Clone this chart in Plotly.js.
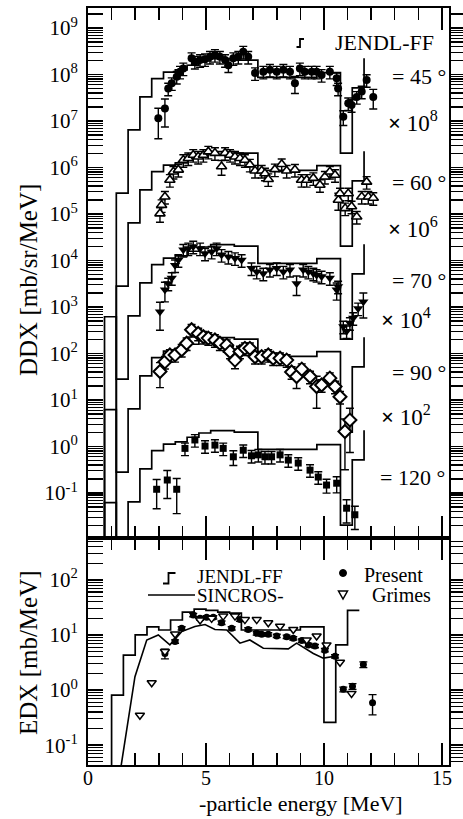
<!DOCTYPE html>
<html><head><meta charset="utf-8">
<script src="https://cdn.plot.ly/plotly-3.0.1.min.js"></script>
<style>html,body{margin:0;padding:0;background:#fff}#chart{width:463px;height:819px}</style>
</head><body><div id="chart"></div>
<script>
// ================= DATA =================
// JENDL-FF DDX (isotropic shape, unscaled, mb/sr/MeV); bins start at edges[i]; last value = final step height
const ddxEdges = [0.7,1.2,1.7,2.2,2.7,3.2,3.7,4.2,4.7,5.2,5.7,6.2,6.7,7.2,7.7,8.2,8.7,9.2,9.7,10.2,10.7,11.2,11.7];
const ddxJendl = [0.0617,0.00282,0.0646,0.331,0.813,1.12,1.26,1.58,1.95,2.19,2.19,2.04,2.04,0.87,0.87,0.87,0.87,0.87,1.10,1.10,0.0204,0.513,2.24];
const ddxAngleLabels = ['= 45 °','= 60 °','= 70 °','= 90 °','= 120 °'];
const ddxScaleLabels = ['10<sup>8</sup>','10<sup>6</sup>','10<sup>4</sup>','10<sup>2</sup>',''];
const ddxScale = [1e8,1e6,1e4,1e2,1];
const ddxFirstBin = [1,1,0,0,0];

// measured DDX (unscaled)
const e45 = [2.98,3.26,3.40,3.55,3.76,3.90,4.04,4.39,4.53,4.75,4.96,5.17,5.38,5.59,5.81,5.95,6.16,6.37,6.58,6.79,7.08,7.43,7.71,8.0,8.28,8.56,8.77,8.98,9.19,9.48,9.69,9.9,10.25,10.54,10.6,10.82,11.03,11.17,11.39,11.6,11.81,12.09];
const v45 = [0.115,0.186,0.50,0.65,0.89,1.15,1.35,2.24,1.88,2.04,2.14,2.40,2.63,2.40,2.04,1.58,2.24,2.40,3.09,2.40,1.07,1.15,1.26,1.15,1.26,1.15,0.65,1.35,1.15,1.15,1.15,0.98,1.15,0.83,0.50,0.123,0.24,0.22,0.33,0.43,0.76,0.33];
const f45 = [0.64,0.6,0.3,0.3,0.3,0.3,0.3,0.3,0.3,0.3, 0.3,0.3,0.3,0.3,0.3,0.3,0.3,0.3,0.3,0.3, 0.3,0.3,0.3,0.3,0.3,0.3,0.4,0.3,0.3,0.3, 0.3,0.3,0.3,0.3,0.3,0.35,0.3,0.3,0.3,0.3, 0.3,0.45];

const e60 = [3.05,3.12,3.26,3.47,3.62,3.83,4.04,4.25,4.46,4.67,4.89,5.10,5.38,5.66,5.81,6.02,6.23,6.44,6.65,6.86,7.08,7.36,7.50,7.64,7.92,8.21,8.42,8.77,9.05,9.27,9.55,9.83,10.04,10.25,10.47,10.61,10.68,10.9,11.03,11.17,11.39,11.6,11.81,11.88,12.09];
const v60 = [0.102,0.155,0.234,0.54,0.81,0.89,1.45,1.58,1.86,1.70,1.86,2.19,2.04,1.05,2.04,1.86,1.70,1.58,1.45,1.15,0.85,0.85,0.74,0.56,0.91,1.17,0.85,0.89,0.54,0.54,0.59,0.42,0.63,0.81,0.69,0.20,0.275,0.132,0.275,0.145,0.087,0.234,0.49,0.234,0.22];
const f60 = [0.35,0.3,0.3,0.3,0.3,0.3,0.3,0.3,0.3,0.3, 0.3,0.3,0.3,0.35,0.3,0.3,0.3,0.3,0.3,0.3, 0.3,0.3,0.3,0.3,0.3,0.3,0.3,0.3,0.3,0.3, 0.3,0.3,0.3,0.3,0.3,0.4,0.3,0.3,0.3,0.3, 0.3,0.3,0.3,0.3,0.3];

const e70 = [3.05,3.26,3.40,3.55,3.69,3.83,4.04,4.25,4.46,4.75,4.96,5.24,5.45,5.66,5.95,6.23,6.51,6.93,7.15,7.43,7.71,8.0,8.28,8.56,8.84,9.12,9.34,9.55,9.69,9.9,10.25,10.54,10.6,10.82,10.96,11.1,11.24,11.45,11.67];
const v70 = [0.079,0.234,0.32,0.42,0.79,1.02,1.70,1.82,2.0,1.82,1.41,1.55,1.82,1.32,1.20,1.12,1.02,0.68,0.575,0.525,0.63,0.68,0.575,0.63,0.32,0.63,0.575,0.525,0.49,0.45,0.42,0.234,0.275,0.038,0.030,0.045,0.058,0.093,0.129];
const f70 = [0.6,0.45,0.3,0.3,0.3,0.3,0.3,0.3,0.3,0.3, 0.3,0.3,0.3,0.3,0.3,0.3,0.3,0.3,0.3,0.3, 0.3,0.3,0.3,0.3,0.45,0.3,0.3,0.3,0.3,0.3, 0.3,0.4,0.3,0.3,0.3,0.3,0.3,0.3,0.55];

const e90 = [3.05,3.26,3.47,3.69,3.97,4.18,4.39,4.67,4.89,5.10,5.38,5.59,5.88,6.02,6.23,6.44,6.65,6.86,7.08,7.36,7.64,7.85,8.14,8.42,8.63,8.84,9.06,9.41,9.69,9.9,10.25,10.47,10.68,10.89,11.1];
const v90 = [0.41,0.66,0.93,0.93,1.20,1.66,3.24,2.69,2.29,2.14,1.95,1.66,1.51,1.10,0.72,1.10,1.29,1.29,0.85,0.85,0.93,0.79,0.79,0.72,0.40,0.32,0.46,0.32,0.195,0.21,0.295,0.195,0.117,0.021,0.037];
const f90 = [0.55,0.3,0.3,0.3,0.3,0.3,0.3,0.3,0.3,0.3, 0.3,0.3,0.3,0.3,0.35,0.3,0.3,0.3,0.3,0.3, 0.3,0.3,0.3,0.3,0.3,0.45,0.3,0.3,0.66,0.3, 0.3,0.3,0.3,0.85,0.8];

const e120 = [2.91,3.36,3.76,4.11,4.53,4.96,5.38,5.73,6.16,6.58,6.93,7.22,7.5,7.78,8.14,8.49,8.91,9.41,9.76,10.11,10.54,10.96,11.31];
const v120 = [0.12,0.19,0.12,0.91,1.38,1.02,1.07,0.91,0.60,0.83,0.63,0.66,0.60,0.60,0.66,0.51,0.44,0.31,0.22,0.148,0.162,0.047,0.034];
const f120 = [0.62,0.6,0.7,0.3,0.3,0.3,0.3,0.3,0.35,0.3, 0.3,0.3,0.3,0.3,0.3,0.3,0.3,0.3,0.3,0.33, 0.38,0.52,0.52];

// EDX (mb/MeV)
const edxEdges = [1.0,1.5,2.0,2.5,3.0,3.5,4.0,4.5,5.0,5.5,6.0,6.5,7.0,7.5,8.0,8.5,9.0,9.5,10.0,10.5,11.0,11.5];
const edxJendl = [0.81,4.3,10,14,12.3,18.7,26,29.5,28,26,25,12.3,12.3,12.3,12.3,12.3,14,14,0.26,6.6,28];
const eSincros = [1.35,1.99,2.49,2.98,3.47,3.97,4.53,4.96,5.38,5.88,6.44,6.86,7.43,8.49,8.84,9.55,9.97,10.47];
const vSincros = [0.03,1.75,8.1,10,6.6,11.5,14.2,15.5,12.6,12.3,7.1,8.1,5.75,5.6,7.1,4.6,3.8,4.1];
const ePresent = [3.26,3.69,3.97,4.46,4.75,5.03,5.31,5.66,6.09,6.44,6.79,7.15,7.36,7.64,8.0,8.42,8.7,9.06,9.34,9.62,10.04,10.47,10.82,11.21,11.67,12.06];
const vPresent = [4.6,7.6,13.2,23,20,21,21,16.7,13.2,19,12.6,10.7,10.3,10.3,9.6,9.3,8.7,7.9,6.6,6.3,5.3,4.1,1.03,1.17,2.9,0.59];
const fPresent = [0.2,0.07,0.07,0.07,0.07,0.07,0.07,0.07,0.07,0.07, 0.07,0.07,0.07,0.07,0.07,0.07,0.07,0.07,0.07,0.07, 0.07,0.07,0.1,0.12,0.12,0.4];
const eGrimes = [2.2,2.7,3.26,3.69,4.75,5.24,5.73,6.23,6.65,7.15,7.64,8.14,8.7,9.27,9.69,10.11,10.68,11.17];
const vGrimes = [0.35,1.36,5.0,10.4,18.7,20,22,22,19,19,16.7,14.4,12.6,8.1,9.6,6.6,3.2,0.87];

const topTickVals = [1e-1,1,1e1,1e2,1e3,1e4,1e5,1e6,1e7,1e8,1e9];
const topTickText = ['10<sup>-1</sup>','10<sup>0</sup>','10<sup>1</sup>','10<sup>2</sup>','10<sup>3</sup>','10<sup>4</sup>','10<sup>5</sup>','10<sup>6</sup>','10<sup>7</sup>','10<sup>8</sup>','10<sup>9</sup>'];
const botTickVals = [1e-1,1,1e1,1e2];
const botTickText = ['10<sup>-1</sup>','10<sup>0</sup>','10<sup>1</sup>','10<sup>2</sup>'];

// ================= BUILD =================
const FONT = 'Liberation Serif, Times New Roman, serif';
const BLACK = '#000';
const FLOOR = 1e-12;
const X = px => (px - 88) / 361;
const Y = py => (765 - py) / 757;

function stepTrace(edges, vals, scale, startIdx, closeLast, xa, ya) {
  const xs = [edges[startIdx]], ys = [FLOOR];
  for (let i = startIdx; i < vals.length; i++) { xs.push(edges[i]); ys.push(vals[i] * scale); }
  if (closeLast) { xs.push(edges[vals.length]); ys.push(vals[vals.length - 1] * scale); }
  return {x: xs, y: ys, xaxis: xa, yaxis: ya, mode: 'lines', type: 'scatter',
          line: {shape: 'hv', color: BLACK, width: 1.7}, hoverinfo: 'skip', showlegend: false};
}
function pointTrace(e, v, f, scale, marker, xa, ya) {
  return {x: e, y: v.map(a => a * scale), xaxis: xa, yaxis: ya, mode: 'markers', type: 'scatter',
          marker: marker, showlegend: false,
          error_y: {type: 'data', symmetric: true, array: v.map((a, i) => a * scale * f[i]),
                    color: BLACK, thickness: 1.4, width: 4}};
}

const markers = [
  {symbol: 'circle', size: 8, color: BLACK},
  {symbol: 'triangle-up', size: 9, color: '#fff', line: {color: BLACK, width: 1.6}},
  {symbol: 'triangle-down', size: 9, color: BLACK},
  {symbol: 'diamond', size: 10, color: '#fff', line: {color: BLACK, width: 2}},
  {symbol: 'square', size: 7, color: BLACK}
];
const meas = [[e45, v45, f45], [e60, v60, f60], [e70, v70, f70], [e90, v90, f90], [e120, v120, f120]];

const traces = [];
for (let k = 0; k < 5; k++) {
  traces.push(stepTrace(ddxEdges, ddxJendl, ddxScale[k], ddxFirstBin[k], false, 'x2', 'y2'));
}
for (let k = 0; k < 5; k++) {
  traces.push(pointTrace(meas[k][0], meas[k][1], meas[k][2], ddxScale[k], markers[k], 'x2', 'y2'));
}
traces.push(stepTrace(edxEdges, edxJendl, 1, 0, true, 'x', 'y'));
traces.push({x: eSincros, y: vSincros, xaxis: 'x', yaxis: 'y', mode: 'lines', type: 'scatter',
             line: {color: BLACK, width: 1.6}, showlegend: false});
traces.push(pointTrace(ePresent, vPresent, fPresent, 1, {symbol: 'circle', size: 7, color: BLACK}, 'x', 'y'));
traces.push({x: eGrimes, y: vGrimes, xaxis: 'x', yaxis: 'y', mode: 'markers', type: 'scatter', showlegend: false,
             marker: {symbol: 'triangle-down', size: 8, color: '#fff', line: {color: BLACK, width: 1.5}}});
// dummy traces to hold the right-side tick axes
traces.push({x: [], y: [], xaxis: 'x', yaxis: 'y3', type: 'scatter', showlegend: false});
traces.push({x: [], y: [], xaxis: 'x2', yaxis: 'y4', type: 'scatter', showlegend: false});

const TOPRANGE = [-1.968, 9.43];
const BOTRANGE = [-1.36, 2.76];
const SPLIT = 0.2999;

const xCommon = {range: [0, 15.3], tickmode: 'linear', tick0: 0, dtick: 5, ticks: 'inside', ticklen: 22,
  tickwidth: 1.5, tickcolor: BLACK, showline: true, linewidth: 2, linecolor: BLACK, mirror: 'ticks',
  showgrid: false, zeroline: false, ticklabelstandoff: -6,
  minor: {tickmode: 'linear', tick0: 0, dtick: 1, ticks: 'inside', ticklen: 12, tickwidth: 1.5, tickcolor: BLACK},
  tickfont: {family: FONT, size: 20, color: BLACK}};
function yLeft(range, tv, tt, domain) {
  return {type: 'log', range: range, domain: domain, tickmode: 'array', tickvals: tv, ticktext: tt,
    ticks: 'inside', ticklen: 15, tickwidth: 1.5, tickcolor: BLACK, showline: true, linewidth: 2,
    linecolor: BLACK, mirror: true, showgrid: false, zeroline: false,
    minor: {tickmode: 'linear', dtick: 'D1', ticks: 'inside', ticklen: 15, tickwidth: 1.2, tickcolor: BLACK},
    tickfont: {family: FONT, size: 21, color: BLACK}, ticklabelstandoff: 4};
}
function yRight(range, tv, over) {
  return {type: 'log', range: range, overlaying: over, side: 'right', tickmode: 'array', tickvals: tv,
    ticks: 'outside', ticklen: 14, tickwidth: 1.5, tickcolor: BLACK, showline: false, showgrid: false,
    zeroline: false, showticklabels: false,
    minor: {tickmode: 'linear', dtick: 'D1', ticks: 'outside', ticklen: 14, tickwidth: 1.2, tickcolor: BLACK}};
}

const ann = [];
function txt(text, px, py, size, extra) {
  ann.push(Object.assign({text: text, x: X(px), y: Y(py), xref: 'paper', yref: 'paper', showarrow: false,
    xanchor: 'center', yanchor: 'middle', font: {family: FONT, size: size, color: BLACK}}, extra || {}));
}
const angPos = [[419, 77], [419, 183], [419, 281], [419, 372], [412, 478]];
const sclPos = [[413, 121], [413, 227], [406, 318], [406, 415]];
for (let k = 0; k < 5; k++) {
  txt(ddxAngleLabels[k], angPos[k][0], angPos[k][1], 22);
  if (ddxScaleLabels[k]) txt('<b>×</b> ' + ddxScaleLabels[k], sclPos[k][0], sclPos[k][1], 23);
}
txt('JENDL-FF', 384, 43, 22);
txt('JENDL-FF', 195, 576, 19, {xanchor: 'left'});
txt('SINCROS-', 195, 595, 19, {xanchor: 'left'});
txt('Present', 362, 575, 20, {xanchor: 'left'});
txt('Grimes', 370, 595, 20, {xanchor: 'left'});
txt('DDX [mb/sr/MeV]', 28, 280, 25, {textangle: -90});
txt('EDX [mb/MeV]', 28, 653, 25, {textangle: -90});
txt('-particle energy [MeV]', 301, 804, 22);

const P = (px, py) => X(px) + ',' + Y(py);
const shapes = [
  {type: 'path', xref: 'paper', yref: 'paper', path: 'M' + P(296.5, 47) + 'L' + P(300, 47) + 'L' + P(300, 39) + 'L' + P(304, 39),
   line: {color: BLACK, width: 1.8}},
  {type: 'path', xref: 'paper', yref: 'paper', path: 'M' + P(163, 583.5) + 'L' + P(168.5, 583.5) + 'L' + P(168.5, 573) + 'L' + P(175.5, 573),
   line: {color: BLACK, width: 1.8}},
  {type: 'line', xref: 'paper', yref: 'paper', x0: X(148), x1: X(195), y0: Y(595), y1: Y(595), line: {color: BLACK, width: 1.6}},
  {type: 'circle', xref: 'paper', yref: 'paper', x0: X(339.5), x1: X(346.5), y0: Y(576.5), y1: Y(569.5),
   fillcolor: BLACK, line: {color: BLACK, width: 1}},
  {type: 'path', xref: 'paper', yref: 'paper', path: 'M' + P(338.5, 591) + 'L' + P(347.5, 591) + 'L' + P(343, 599) + 'Z',
   line: {color: BLACK, width: 1.5}}
];

const layout = {
  width: 463, height: 819, margin: {l: 88, r: 14, t: 8, b: 54},
  paper_bgcolor: '#fff', plot_bgcolor: '#fff', showlegend: false,
  font: {family: FONT, color: BLACK},
  xaxis: Object.assign({}, xCommon, {anchor: 'y', domain: [0, 1]}),
  xaxis2: Object.assign({}, xCommon, {anchor: 'y2', domain: [0, 1], matches: 'x', showticklabels: false}),
  yaxis: Object.assign(yLeft(BOTRANGE, botTickVals, botTickText, [0, SPLIT]), {anchor: 'x'}),
  yaxis2: Object.assign(yLeft(TOPRANGE, topTickVals, topTickText, [SPLIT, 1]), {anchor: 'x2'}),
  yaxis3: Object.assign(yRight(BOTRANGE, botTickVals, 'y'), {anchor: 'x'}),
  yaxis4: Object.assign(yRight(TOPRANGE, topTickVals, 'y2'), {anchor: 'x2'}),
  annotations: ann, shapes: shapes
};
Plotly.newPlot('chart', traces, layout, {displayModeBar: false, staticPlot: true});
</script></body></html>
